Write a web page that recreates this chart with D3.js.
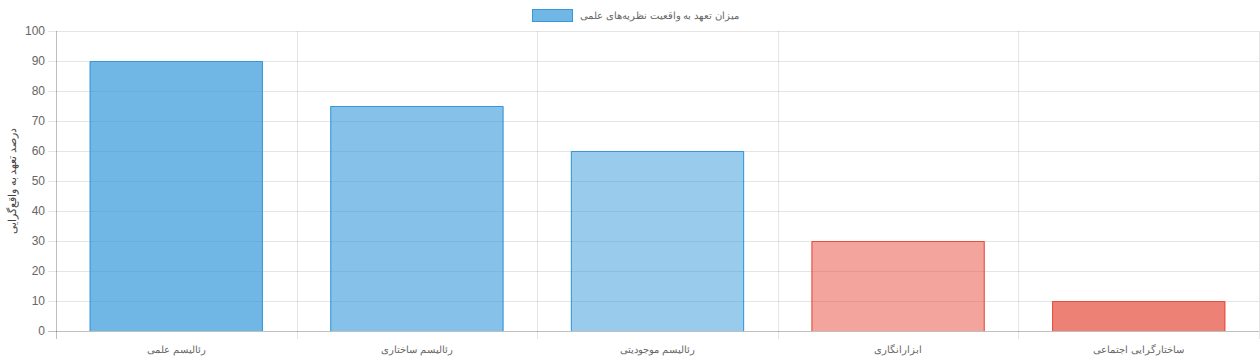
<!DOCTYPE html>
<html>
<head>
<meta charset="utf-8">
<script src="https://cdn.jsdelivr.net/npm/d3@7"></script>
<style>
  body { margin: 0; background: #fff; }
  text { font-family: "Liberation Sans", Arial, sans-serif; }
</style>
</head>
<body>
<div id="chart"></div>
<script>
let w = 1260;
let h = 360;

// data
let categories = ["رئالیسم علمی", "رئالیسم ساختاری", "رئالیسم موجودیتی", "ابزارانگاری", "ساختارگرایی اجتماعی"];
let values = [90, 75, 60, 30, 10];
let fillColors = ["rgba(52,152,219,0.7)", "rgba(52,152,219,0.6)", "rgba(52,152,219,0.5)", "rgba(231,76,60,0.5)", "rgba(231,76,60,0.7)"];
let borderColors = ["#3498db", "#3498db", "#3498db", "#e74c3c", "#e74c3c"];
let yTicks = [0, 10, 20, 30, 40, 50, 60, 70, 80, 90, 100];
let seriesName = "میزان تعهد به واقعیت نظریه‌های علمی";
let yTitle = "درصد تعهد به واقع‌گرایی";

let plotLeft = 56, plotRight = 1259, plotTop = 31, plotBottom = 331;

let xScale = d3.scaleBand().domain(categories).range([plotLeft, plotRight]).paddingInner(0).paddingOuter(0);
let yScale = d3.scaleLinear().domain([0, 100]).range([plotBottom, plotTop]);

let viz = d3.select("#chart").append("svg")
  .attr("width", w)
  .attr("height", h);

// horizontal grid
viz.append("g").selectAll("line").data(yTicks).enter()
  .append("line")
    .attr("x1", 48)
    .attr("x2", plotRight)
    .attr("y1", d => Math.round(yScale(d)) + 0.5)
    .attr("y2", d => Math.round(yScale(d)) + 0.5)
    .attr("stroke", d => d == 0 ? "rgba(0,0,0,0.25)" : "rgba(0,0,0,0.1)")
;

// vertical grid at category edges
let edges = categories.map(c => xScale(c)).concat([plotRight]);
viz.append("g").selectAll("line").data(edges).enter()
  .append("line")
    .attr("x1", d => Math.round(d) + 0.5)
    .attr("x2", d => Math.round(d) + 0.5)
    .attr("y1", plotTop)
    .attr("y2", 339)
    .attr("stroke", (d, i) => i == 0 ? "rgba(0,0,0,0.25)" : "rgba(0,0,0,0.1)")
;

// bars
let barW = xScale.bandwidth() * 0.72;
viz.append("g").selectAll("rect").data(values).enter()
  .append("rect")
    .attr("x", (d, i) => xScale(categories[i]) + (xScale.bandwidth() - barW) / 2)
    .attr("y", d => yScale(d))
    .attr("width", barW)
    .attr("height", d => yScale(0) - yScale(d))
    .attr("fill", (d, i) => fillColors[i])
;
// borders (top, left, right like chart.js)
viz.append("g").selectAll("path").data(values).enter()
  .append("path")
    .attr("d", (d, i) => {
      let x0 = xScale(categories[i]) + (xScale.bandwidth() - barW) / 2 + 0.5;
      let x1 = x0 + barW - 1;
      let y0 = yScale(d) + 0.5;
      return "M" + x0 + "," + plotBottom + "L" + x0 + "," + y0 + "L" + x1 + "," + y0 + "L" + x1 + "," + plotBottom;
    })
    .attr("fill", "none")
    .attr("stroke", (d, i) => borderColors[i])
    .attr("stroke-width", 1)
;

// y tick labels
viz.append("g").selectAll("text").data(yTicks).enter()
  .append("text")
    .attr("x", 45)
    .attr("y", d => yScale(d))
    .attr("dy", "0.35em")
    .attr("text-anchor", "end")
    .attr("font-size", 12)
    .attr("fill", "#666")
    .text(d => d)
;

// x labels
viz.append("g").selectAll("text").data(categories).enter()
  .append("text")
    .attr("x", d => xScale(d) + xScale.bandwidth() / 2)
    .attr("y", 349)
    .attr("dy", "0.35em")
    .attr("text-anchor", "middle")
    .attr("font-size", 10)
    .attr("fill", "#666")
    .text(d => d)
;

// y title
viz.append("text")
  .attr("transform", "translate(12," + ((plotTop + plotBottom) / 2) + ") rotate(-90)")
  .attr("dy", "0.35em")
  .attr("text-anchor", "middle")
  .attr("font-size", 10.5)
  .attr("fill", "#444")
  .text(yTitle)
;

// legend
viz.append("rect")
  .attr("x", 532.5)
  .attr("y", 9.5)
  .attr("width", 40)
  .attr("height", 12)
  .attr("fill", fillColors[0])
  .attr("stroke", borderColors[0])
;
viz.append("text")
  .attr("x", 580)
  .attr("y", 15.5)
  .attr("dy", "0.35em")
  .attr("font-size", 10)
  .attr("fill", "#666")
  .text(seriesName)
;
</script>
</body>
</html>
